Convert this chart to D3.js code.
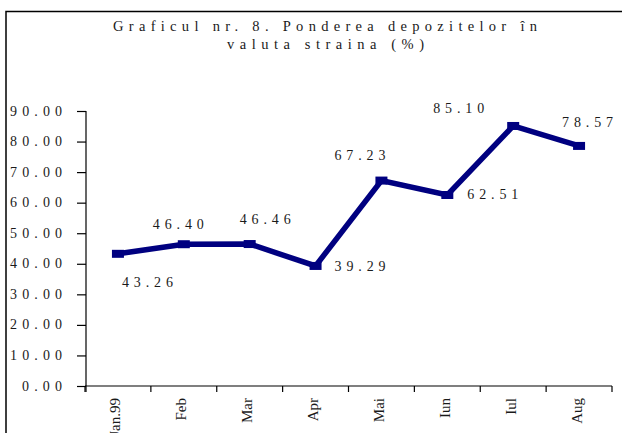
<!DOCTYPE html>
<html>
<head>
<meta charset="utf-8">
<script src="https://cdn.jsdelivr.net/npm/d3@7"></script>
<style>
  html, body { margin: 0; padding: 0; background: #fff; }
  svg { display: block; }
  text { font-family: "Liberation Serif", "Times New Roman", serif; fill: #1a1a1a; }
</style>
</head>
<body>
<svg id="chart" width="622" height="433"></svg>
<script>
// ---- data ----
const titleLines = ["Graficul nr. 8. Ponderea depozitelor în", "valuta straina (%)"];
const months = ["Jan.99", "Feb", "Mar", "Apr", "Mai", "Iun", "Iul", "Aug"];
const values = [43.26, 46.40, 46.46, 39.29, 67.23, 62.51, 85.10, 78.57];
const valueLabels = ["43.26", "46.40", "46.46", "39.29", "67.23", "62.51", "85.10", "78.57"];
const yTicks = [0, 10, 20, 30, 40, 50, 60, 70, 80, 90];
const yTickLabels = ["0.00", "10.00", "20.00", "30.00", "40.00", "50.00", "60.00", "70.00", "80.00", "90.00"];

// ---- drawing ----
const svg = d3.select("#chart");
const navy = "#000080";

// frame (cropped at right & bottom)
svg.append("path")
  .attr("d", "M6,440 L6,11.5 L630,11.5")
  .attr("fill", "none").attr("stroke", "#000").attr("stroke-width", 1.5);

// title
const titleY = [31, 49];
const titleW = [424, 197];
const titleX = [113, 227];
titleLines.forEach((t, i) => {
  svg.append("text")
    .attr("x", titleX[i]).attr("y", titleY[i])
    .attr("font-size", 14.5)
    .attr("textLength", titleW[i]).attr("lengthAdjust", "spacing")
    .text(t);
});

const x = d3.scaleBand().domain(months).range([85, 612]).paddingInner(0).paddingOuter(0);
const y = d3.scaleLinear().domain([0, 90]).range([386, 111]);

// y axis
const yAxis = d3.axisLeft(y).tickValues(yTicks).tickSize(9).tickFormat(() => "");
const gy = svg.append("g").attr("transform", "translate(86,0)").call(yAxis);
gy.select(".domain").attr("d", `M0,${y(90)}V${y(0) + 6}`).attr("stroke", "#000").attr("stroke-width", 1.2);
gy.selectAll(".tick line").attr("stroke", "#000").attr("stroke-width", 1.2);
svg.append("g").selectAll("text").data(yTicks).join("text")
  .attr("x", 62).attr("y", d => y(d) + 4.5)
  .attr("text-anchor", "end")
  .attr("font-size", 14)
  .attr("textLength", (d, i) => yTickLabels[i].length === 4 ? 40 : 52)
  .attr("lengthAdjust", "spacing")
  .text((d, i) => yTickLabels[i]);

// x axis (ticks at category boundaries)
const gx = svg.append("g");
gx.append("line")
  .attr("x1", x.range()[0]).attr("x2", x.range()[1])
  .attr("y1", y(0)).attr("y2", y(0))
  .attr("stroke", "#000").attr("stroke-width", 1.2);
const bounds = months.map(m => x(m)).concat([x(months[months.length - 1]) + x.bandwidth()]);
gx.selectAll("line.tk").data(bounds).join("line").attr("class", "tk")
  .attr("x1", d => d).attr("x2", d => d)
  .attr("y1", y(0)).attr("y2", y(0) + 6)
  .attr("stroke", "#000").attr("stroke-width", 1.2);
gx.selectAll("text").data(months).join("text")
  .attr("transform", d => `translate(${x(d) + x.bandwidth() / 2 + 2.5},398) rotate(-90)`)
  .attr("text-anchor", "end")
  .attr("font-size", 15)
  .text(d => d);

// line
const cx = i => x(months[i]) + x.bandwidth() / 2;
const line = d3.line().x((d, i) => cx(i)).y(d => y(d));
svg.append("path").datum(values)
  .attr("d", line)
  .attr("fill", "none").attr("stroke", navy).attr("stroke-width", 5.5)
  .attr("stroke-linejoin", "miter");

svg.append("g").selectAll("rect").data(values).join("rect")
  .attr("x", (d, i) => cx(i) - 6).attr("y", d => y(d) - 4)
  .attr("width", 12).attr("height", 8)
  .attr("fill", navy);

// data labels (offset from each point: left edge dx, baseline dy)
const labelOffsets = [[4, 33], [-31, -15], [-10, -20], [19, 5], [-47, -21], [20, 4], [-80, -13], [-17, -19]];
svg.append("g").selectAll("text").data(values).join("text")
  .attr("x", (d, i) => cx(i) + labelOffsets[i][0])
  .attr("y", (d, i) => y(d) + labelOffsets[i][1])
  .attr("font-size", 14)
  .attr("textLength", 51).attr("lengthAdjust", "spacing")
  .text((d, i) => valueLabels[i]);
</script>
</body>
</html>
